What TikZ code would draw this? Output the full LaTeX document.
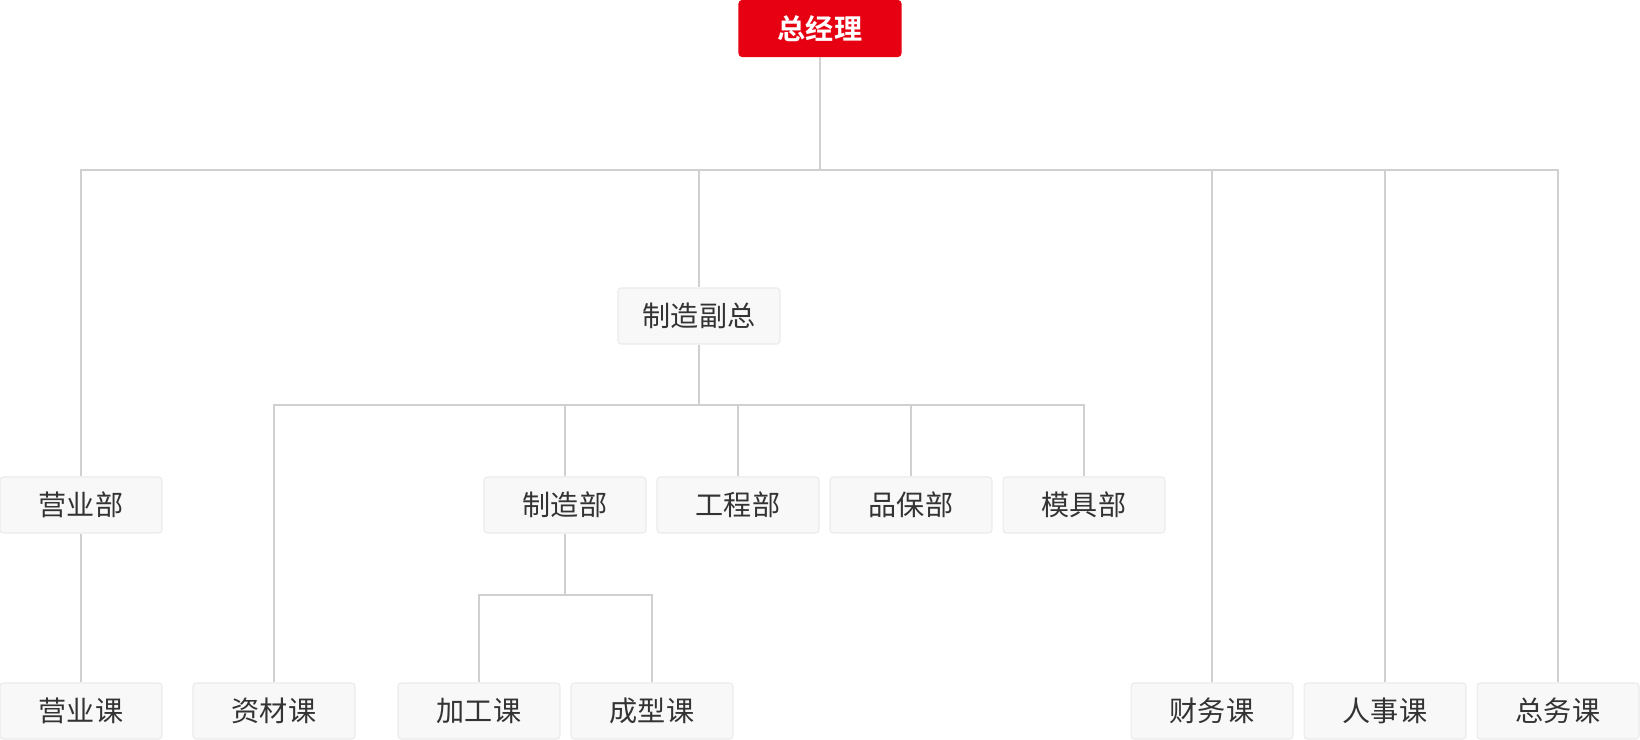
\documentclass[tikz,border=0pt]{standalone}
\usepackage{fontspec}
\newfontfamily\cjk{Noto Sans CJK SC}[BoldFont={Noto Sans CJK SC Bold}]
\usetikzlibrary{positioning}
\definecolor{boss}{HTML}{E60012}
\definecolor{boxline}{HTML}{EBEBEB}
\definecolor{boxfill}{HTML}{F8F8F8}
\definecolor{wire}{HTML}{D0D0D0}
\definecolor{ink}{HTML}{333333}
\tikzset{
  % ---- boxes -----------------------------------------------------
  unit/.style   = {rectangle, rounded corners=1.8pt, draw=boxline,
                   fill=boxfill, line width=.6pt, text=ink,
                   minimum width=3.24cm, minimum height=1.12cm,
                   inner sep=0pt, font=\cjk\fontsize{16}{19}\selectfont},
  head/.style   = {unit, draw=boss, fill=boss, text=white,
                   font=\cjk\bfseries\fontsize{16}{19}\selectfont},
  % ---- connectors ------------------------------------------------
  link/.style   = {draw=wire, line width=.8pt},
}
\begin{document}
\begin{tikzpicture}[x=0.02cm,y=-0.02cm]
  \useasboundingbox (0,0) rectangle (1640,740);
  % top
  \node[head] (gm) at (820,28.5) {总经理};
  \node[unit] (vp) at (699,316) {制造副总};
  % middle row
  \node[unit] (sales) at (81,505) {营业部};
  \node[unit] (mfg) at (565,505) {制造部};
  \node[unit] (eng) at (738,505) {工程部};
  \node[unit] (qa) at (911,505) {品保部};
  \node[unit] (mold) at (1084,505) {模具部};
  % bottom row
  \node[unit] (salesc) at (81,711) {营业课};
  \node[unit] (matc) at (274,711) {资材课};
  \node[unit] (procc) at (479,711) {加工课};
  \node[unit] (formc) at (652,711) {成型课};
  \node[unit] (finc) at (1212,711) {财务课};
  \node[unit] (hrc) at (1385,711) {人事课};
  \node[unit] (genc) at (1558,711) {总务课};
  % junctions
  \coordinate (j0) at (820,170);
  \coordinate (j1) at (699,405);
  \coordinate (j2) at (565,595);
  \draw[link] (gm) -- (j0);
  \draw[link] (j0) -| (sales);
  \draw[link] (j0) -| (vp);
  \draw[link] (j0) -| (finc);
  \draw[link] (j0) -| (hrc);
  \draw[link] (j0) -| (genc);
  \draw[link] (sales) -- (salesc);
  \draw[link] (vp) -- (j1);
  \draw[link] (j1) -| (matc);
  \draw[link] (j1) -| (mfg);
  \draw[link] (j1) -| (eng);
  \draw[link] (j1) -| (qa);
  \draw[link] (j1) -| (mold);
  \draw[link] (mfg) -- (j2);
  \draw[link] (j2) -| (procc);
  \draw[link] (j2) -| (formc);
\end{tikzpicture}
\end{document}
